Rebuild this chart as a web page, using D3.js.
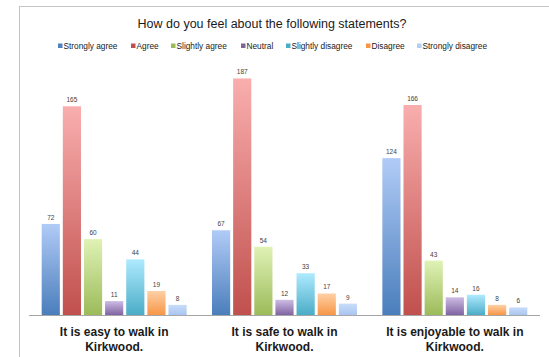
<!DOCTYPE html>
<html>
<head>
<meta charset="utf-8">
<script src="https://cdn.jsdelivr.net/npm/d3@7"></script>
<style>
  html, body { margin: 0; padding: 0; background: #fff; }
  svg { display: block; font-family: "Liberation Sans", Arial, sans-serif; }
</style>
</head>
<body>
<svg id="chart" width="549" height="357"></svg>
<script>
// Survey responses per statement
const title = "How do you feel about the following statements?";
const categories = ["easy", "safe", "enjoyable"];
const categoryLabels = [
  ["It is easy to walk in", "Kirkwood."],
  ["It is safe to walk in", "Kirkwood."],
  ["It is enjoyable to walk in", "Kirkwood."]
];
const seriesNames = ["Strongly agree", "Agree", "Slightly agree", "Neutral",
                     "Slightly disagree", "Disagree", "Strongly disagree"];
const stronglyAgree    = [72, 67, 124];
const agree            = [165, 187, 166];
const slightlyAgree    = [60, 54, 43];
const neutral          = [11, 12, 14];
const slightlyDisagree = [44, 33, 16];
const disagree         = [19, 17, 8];
const stronglyDisagree = [8, 9, 6];
const seriesValues = [stronglyAgree, agree, slightlyAgree, neutral,
                      slightlyDisagree, disagree, stronglyDisagree];

// Gradient stops (top, bottom) and legend swatch colour per series
const colorsTop    = ["#b1cbf7", "#f9aeae", "#e0f2b6", "#cdbce4", "#aeeaff", "#fed0a6", "#c9dcfa"];
const colorsBottom = ["#4a7ebb", "#c0504d", "#9bbb59", "#8064a2", "#4bacc6", "#f79646", "#a9c5ef"];
const swatch       = ["#4f81bd", "#c0504d", "#9bbb59", "#8064a2", "#4bacc6", "#f79646", "#b3cdf5"];

const svg = d3.select("#chart");

// Outer frame
svg.append("rect")
  .attr("x", 19.5).attr("y", 6.5)
  .attr("width", 560).attr("height", 380)
  .attr("fill", "none").attr("stroke", "#c4c4c4").attr("stroke-width", 1);

// Gradients
const defs = svg.append("defs");
seriesNames.forEach((s, i) => {
  const g = defs.append("linearGradient")
    .attr("id", "grad" + i)
    .attr("x1", 0).attr("y1", 0).attr("x2", 0).attr("y2", 1);
  g.append("stop").attr("offset", "0%").attr("stop-color", colorsTop[i]);
  g.append("stop").attr("offset", "100%").attr("stop-color", colorsBottom[i]);
});

// Scales
const x0 = d3.scaleBand().domain(categories).range([29, 540]).padding(0);
const x1 = d3.scaleBand().domain(seriesNames).range([0, x0.bandwidth()])
  .paddingInner(0.14).paddingOuter(0.6);
const y = d3.scaleLinear().domain([0, 200]).range([315, 62]);

// Title
svg.append("text")
  .attr("x", 272).attr("y", 28)
  .attr("text-anchor", "middle")
  .attr("font-size", 12.5)
  .attr("fill", "#1a1a1a")
  .text(title);

// Legend
const legendX = [58, 131, 171, 241, 286, 366, 417];
const legend = svg.append("g");
seriesNames.forEach((s, i) => {
  legend.append("rect")
    .attr("x", legendX[i]).attr("y", 43.5)
    .attr("width", 4.5).attr("height", 4.5)
    .attr("fill", swatch[i]);
  legend.append("text")
    .attr("x", legendX[i] + 5.5).attr("y", 49)
    .attr("font-size", 8.3)
    .attr("fill", "#1a1a1a")
    .text(s);
});

// Bars
const groups = svg.append("g").selectAll("g")
  .data(categories)
  .join("g")
  .attr("transform", d => `translate(${x0(d)},0)`);

groups.each(function(cat, ci) {
  const g = d3.select(this);
  seriesNames.forEach((s, si) => {
    const v = seriesValues[si][ci];
    g.append("rect")
      .attr("x", x1(s))
      .attr("y", y(v))
      .attr("width", x1.bandwidth())
      .attr("height", y(0) - y(v))
      .attr("fill", `url(#grad${si})`);
    g.append("text")
      .attr("x", x1(s) + x1.bandwidth() / 2)
      .attr("y", y(v) - 4)
      .attr("text-anchor", "middle")
      .attr("font-size", 6.5)
      .attr("fill", "#404040")
      .text(v);
  });
});

// Baseline
svg.append("line")
  .attr("x1", 29).attr("x2", 540)
  .attr("y1", 315.5).attr("y2", 315.5)
  .attr("stroke", "#a6a6a6").attr("stroke-width", 1.2);

// Category labels
categories.forEach((c, i) => {
  const t = svg.append("text")
    .attr("x", x0(c) + x0.bandwidth() / 2)
    .attr("text-anchor", "middle")
    .attr("font-size", 12)
    .attr("font-weight", "bold")
    .attr("fill", "#1a1a1a");
  categoryLabels[i].forEach((line, li) => {
    t.append("tspan")
      .attr("x", x0(c) + x0.bandwidth() / 2)
      .attr("y", 336 + li * 15)
      .text(line);
  });
});
</script>
</body>
</html>
